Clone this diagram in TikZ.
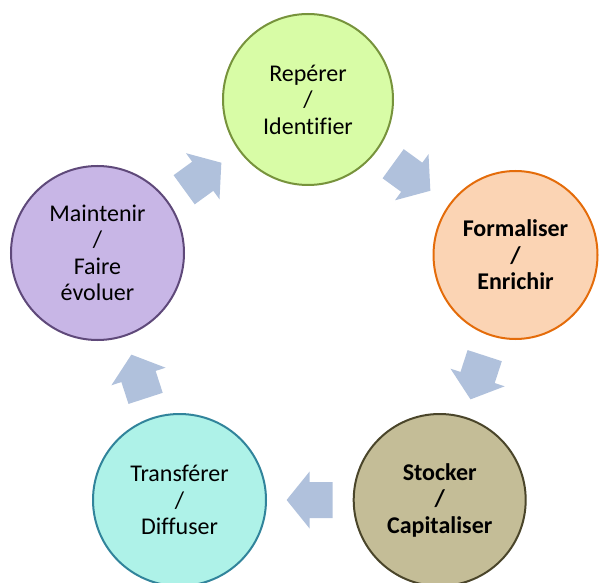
\documentclass[tikz,border=0pt]{standalone}
\usepackage{fontspec}
\setmainfont{Carlito}[Ligatures=NoCommon]
\usetikzlibrary{shapes.geometric,calc}
\definecolor{repfill}{HTML}{D8FCA6}
\definecolor{repline}{HTML}{77933C}
\definecolor{forfill}{HTML}{FBD4B4}
\definecolor{forline}{HTML}{E46C0A}
\definecolor{stofill}{HTML}{C4BD97}
\definecolor{stoline}{HTML}{4A452A}
\definecolor{trafill}{HTML}{AEF2E8}
\definecolor{traline}{HTML}{31849B}
\definecolor{maifill}{HTML}{C8B6E6}
\definecolor{mailine}{HTML}{5F497A}
\definecolor{arrowfill}{HTML}{B0C1DC}
\tikzset{
  stage/.style={ellipse, line width=2pt, inner sep=0pt, align=center,
    font=\fontsize{24}{26.5}\selectfont},
  boldstage/.style={stage, font=\fontsize{24}{26.5}\selectfont\bfseries},
  cyclearrow/.pic={\fill[arrowfill] (-23,-18) -- (0,-18) -- (0,-28.5) -- (23,0)
      -- (0,28.5) -- (0,18) -- (-23,18) -- cycle;}
}
\begin{document}
\begin{tikzpicture}[x=1pt,y=1pt]
\useasboundingbox (0,0) rectangle (600,582);
\node[stage, fill=repfill, draw=repline, minimum width=170pt, minimum height=171pt] (rep) at (308,482.5) {Repérer\\/\\Identifier};
\node[boldstage, fill=forfill, draw=forline, minimum width=164pt, minimum height=168pt] (for) at (515.5,327) {Formaliser\\/\\Enrichir};
\node[boldstage, fill=stofill, draw=stoline, minimum width=172pt, minimum height=172pt] (sto) at (439.7,82) {Stocker\\/\\Capitaliser};
\node[stage, fill=trafill, draw=traline, minimum width=173pt, minimum height=172pt] (tra) at (179.5,82) {Transférer\\/\\Diffuser};
\node[stage, fill=maifill, draw=mailine, minimum width=173pt, minimum height=174pt] (mai) at (97.5,329) {Maintenir\\/\\Faire\\évoluer};
\pic[rotate=-36] at ($(rep)!0.5!(for)$) {cyclearrow};
\pic[rotate=-108] at ($(for)!0.5!(sto)$) {cyclearrow};
\pic[rotate=180] at ($(sto)!0.5!(tra)$) {cyclearrow};
\pic[rotate=108] at ($(tra)!0.5!(mai)$) {cyclearrow};
\pic[rotate=36] at ($(mai)!0.5!(rep)$) {cyclearrow};
\end{tikzpicture}
\end{document}
